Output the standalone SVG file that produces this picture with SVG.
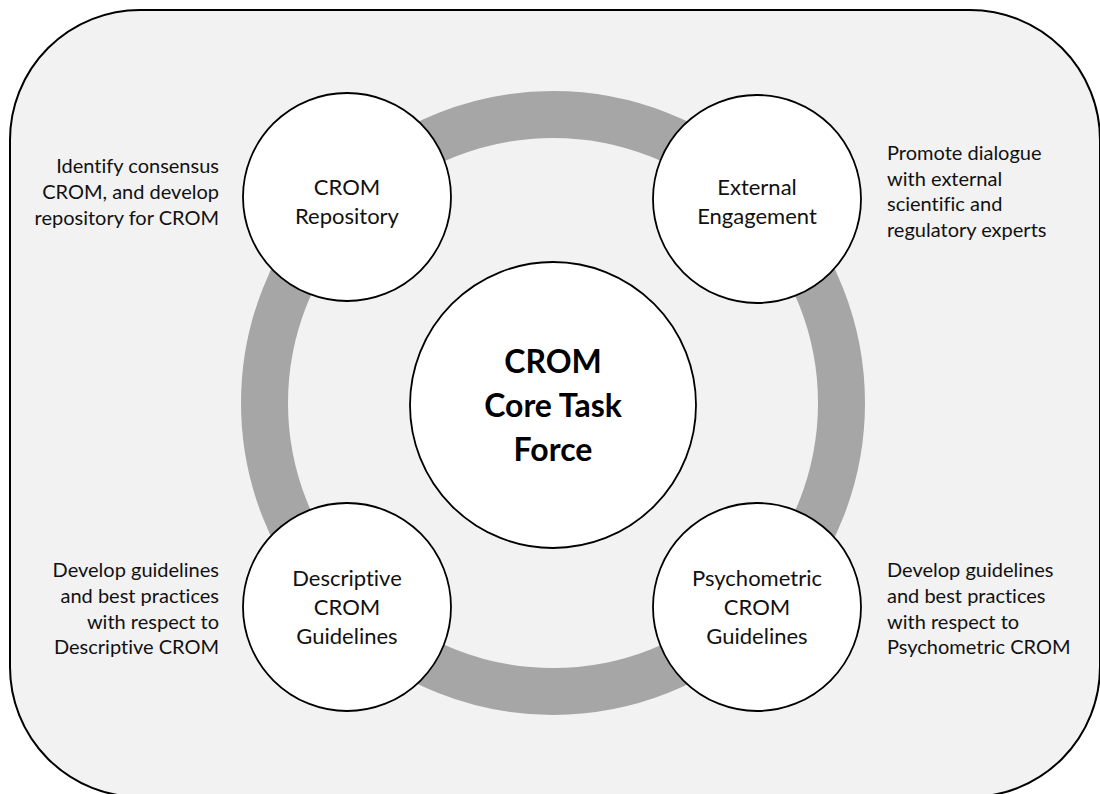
<svg xmlns="http://www.w3.org/2000/svg" width="1100" height="794" viewBox="0 0 1100 794">
  <style>
    .frame { fill: #f2f2f2; stroke: #000; stroke-width: 2; }
    .ring { fill: none; stroke: #a6a6a6; stroke-width: 47; }
    .node { fill: #fff; stroke: #000; stroke-width: 1.8; }
    text { font-variant-ligatures: none; font-feature-settings: "liga" 0, "dlig" 0; }
    .label { font-family: Lato, "Liberation Sans", sans-serif; font-size: 22px; fill: #111; text-anchor: middle; }
    .core { font-family: Lato, "Liberation Sans", sans-serif; font-size: 32px; font-weight: bold; fill: #000; text-anchor: middle; }
    .note { font-family: Lato, "Liberation Sans", sans-serif; font-size: 20px; fill: #111; }
    .right { text-anchor: end; }
    .left { text-anchor: start; }
  </style>

  <!-- background panel -->
  <rect class="frame" x="10" y="10" width="1090" height="787" rx="130" ry="130"/>

  <!-- connecting ring -->
  <g id="connectors">
    <circle class="ring" cx="553" cy="403" r="288.5"/>
  </g>

  <!-- central node -->
  <g id="core">
    <circle class="node" cx="553" cy="405" r="143"/>
    <text class="core" x="553" y="373">CROM</text>
    <text class="core" x="553" y="417">Core Task</text>
    <text class="core" x="553" y="461">Force</text>
  </g>

  <g id="repository">
    <circle class="node" cx="347" cy="197" r="104"/>
    <text class="label" x="347" y="195">CROM</text>
    <text class="label" x="347" y="224">Repository</text>
  </g>

  <g id="engagement">
    <circle class="node" cx="757" cy="199" r="104"/>
    <text class="label" x="757" y="195">External</text>
    <text class="label" x="757" y="224">Engagement</text>
  </g>

  <g id="descriptive">
    <circle class="node" cx="347" cy="607" r="104"/>
    <text class="label" x="347" y="586">Descriptive</text>
    <text class="label" x="347" y="615">CROM</text>
    <text class="label" x="347" y="644">Guidelines</text>
  </g>

  <g id="psychometric">
    <circle class="node" cx="757" cy="607" r="104"/>
    <text class="label" x="757" y="586">Psychometric</text>
    <text class="label" x="757" y="615">CROM</text>
    <text class="label" x="757" y="644">Guidelines</text>
  </g>

  <!-- descriptions -->
  <g id="note-repository">
    <text class="note right" x="219" y="173">Identify consensus</text>
    <text class="note right" x="219" y="199">CROM, and develop</text>
    <text class="note right" x="219" y="225">repository for CROM</text>
  </g>
  <g id="note-engagement">
    <text class="note left" x="887" y="160">Promote dialogue</text>
    <text class="note left" x="887" y="186">with external</text>
    <text class="note left" x="887" y="211">scientific and</text>
    <text class="note left" x="887" y="237">regulatory experts</text>
  </g>
  <g id="note-descriptive">
    <text class="note right" x="219" y="577">Develop guidelines</text>
    <text class="note right" x="219" y="603">and best practices</text>
    <text class="note right" x="219" y="629">with respect to</text>
    <text class="note right" x="219" y="654">Descriptive CROM</text>
  </g>
  <g id="note-psychometric">
    <text class="note left" x="887" y="577">Develop guidelines</text>
    <text class="note left" x="887" y="603">and best practices</text>
    <text class="note left" x="887" y="629">with respect to</text>
    <text class="note left" x="887" y="654">Psychometric CROM</text>
  </g>
</svg>
